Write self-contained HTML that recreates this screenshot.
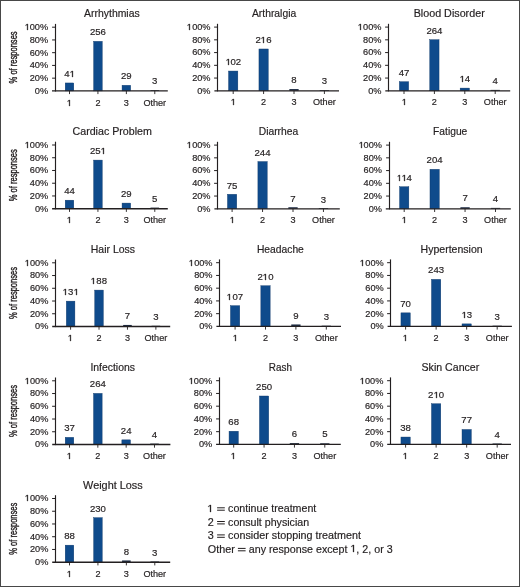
<!DOCTYPE html>
<html><head><meta charset="utf-8"><style>
html,body{margin:0;padding:0;background:#fff;}
svg{display:block;will-change:transform;}
text{font-family:"Liberation Sans",sans-serif;fill:#231f20;stroke:#231f20;stroke-width:0.18px;}
.h1{fill:none;stroke:none;}
</style></head><body>
<svg width="520" height="587" viewBox="0 0 520 587">
<rect x="0" y="0" width="520" height="587" fill="#fff"/>
<rect x="0.5" y="0.5" width="519" height="586" fill="none" stroke="#474747" stroke-width="1"/>
<text x="111.90" y="17.10" font-size="10.3" text-anchor="middle" textLength="55.59" lengthAdjust="spacingAndGlyphs">Arrhythmias</text>
<line x1="55.50" y1="23.90" x2="55.50" y2="91.50" stroke="#231f20" stroke-width="1.15"/>
<text x="48.14" y="93.76" font-size="9.2" text-anchor="end">0%</text>
<line x1="52.10" y1="78.16" x2="55.50" y2="78.16" stroke="#231f20" stroke-width="1.0"/>
<text x="48.14" y="81.02" font-size="9.2" text-anchor="end">20%</text>
<line x1="52.10" y1="65.42" x2="55.50" y2="65.42" stroke="#231f20" stroke-width="1.0"/>
<text x="48.14" y="68.28" font-size="9.2" text-anchor="end">40%</text>
<line x1="52.10" y1="52.68" x2="55.50" y2="52.68" stroke="#231f20" stroke-width="1.0"/>
<text x="48.14" y="55.54" font-size="9.2" text-anchor="end">60%</text>
<line x1="52.10" y1="39.94" x2="55.50" y2="39.94" stroke="#231f20" stroke-width="1.0"/>
<text x="48.14" y="42.80" font-size="9.2" text-anchor="end">80%</text>
<line x1="52.10" y1="27.20" x2="55.50" y2="27.20" stroke="#231f20" stroke-width="1.0"/>
<text x="48.14" y="30.06" font-size="9.2" text-anchor="end" id="t1"><tspan class="h1">1</tspan>00%</text>
<path d="M515,0 L515,1237 L197,1010 L197,1180 L530,1409 L696,1409 L696,0 Z" transform="translate(24.776,30.000) scale(0.00450,-0.00426)" fill="#231f20" stroke="#231f20" stroke-width="0.3" vector-effect="non-scaling-stroke"/>
<rect x="65.20" y="82.96" width="8.60" height="7.94" fill="#0f4b8c" stroke="#0c3566" stroke-width="0.4"/>
<line x1="69.50" y1="90.90" x2="69.50" y2="94.10" stroke="#231f20" stroke-width="0.9"/>
<text x="69.50" y="76.86" font-size="9.6" text-anchor="middle" id="t2">4<tspan class="h1">1</tspan></text>
<path d="M515,0 L515,1237 L197,1010 L197,1180 L530,1409 L696,1409 L696,0 Z" transform="translate(69.659,77.000) scale(0.00469,-0.00426)" fill="#231f20" stroke="#231f20" stroke-width="0.3" vector-effect="non-scaling-stroke"/>
<text x="69.50" y="105.50" font-size="9.1" text-anchor="middle" id="t3"><tspan class="h1">1</tspan></text>
<path d="M515,0 L515,1237 L197,1010 L197,1180 L530,1409 L696,1409 L696,0 Z" transform="translate(66.809,106.000) scale(0.00444,-0.00426)" fill="#231f20" stroke="#231f20" stroke-width="0.3" vector-effect="non-scaling-stroke"/>
<rect x="93.63" y="41.33" width="8.60" height="49.57" fill="#0f4b8c" stroke="#0c3566" stroke-width="0.4"/>
<line x1="97.93" y1="90.90" x2="97.93" y2="94.10" stroke="#231f20" stroke-width="0.9"/>
<text x="97.93" y="35.23" font-size="9.6" text-anchor="middle">256</text>
<text x="97.93" y="105.50" font-size="9.1" text-anchor="middle">2</text>
<rect x="122.06" y="85.29" width="8.60" height="5.61" fill="#0f4b8c" stroke="#0c3566" stroke-width="0.4"/>
<line x1="126.36" y1="90.90" x2="126.36" y2="94.10" stroke="#231f20" stroke-width="0.9"/>
<text x="126.36" y="79.19" font-size="9.6" text-anchor="middle">29</text>
<text x="126.36" y="105.50" font-size="9.1" text-anchor="middle">3</text>
<rect x="150.49" y="90.17" width="8.60" height="0.73" fill="#26303f"/>
<line x1="154.79" y1="90.90" x2="154.79" y2="94.10" stroke="#231f20" stroke-width="0.9"/>
<text x="154.79" y="84.22" font-size="9.6" text-anchor="middle">3</text>
<text x="154.79" y="105.50" font-size="9.1" text-anchor="middle">Other</text>
<line x1="52.00" y1="90.90" x2="167.80" y2="90.90" stroke="#231f20" stroke-width="1.35"/>
<text x="0" y="0" font-size="10.8" text-anchor="middle" textLength="52.0" lengthAdjust="spacingAndGlyphs" style="stroke-width:0.4px" transform="translate(16.5,57.40) rotate(-90)">% of responses</text>
<text x="274.09" y="17.00" font-size="10.3" text-anchor="middle" textLength="44.19" lengthAdjust="spacingAndGlyphs">Arthralgia</text>
<line x1="217.50" y1="23.80" x2="217.50" y2="91.40" stroke="#231f20" stroke-width="1.15"/>
<text x="210.54" y="93.66" font-size="9.2" text-anchor="end">0%</text>
<line x1="214.10" y1="78.06" x2="217.50" y2="78.06" stroke="#231f20" stroke-width="1.0"/>
<text x="210.54" y="80.92" font-size="9.2" text-anchor="end">20%</text>
<line x1="214.10" y1="65.32" x2="217.50" y2="65.32" stroke="#231f20" stroke-width="1.0"/>
<text x="210.54" y="68.18" font-size="9.2" text-anchor="end">40%</text>
<line x1="214.10" y1="52.58" x2="217.50" y2="52.58" stroke="#231f20" stroke-width="1.0"/>
<text x="210.54" y="55.44" font-size="9.2" text-anchor="end">60%</text>
<line x1="214.10" y1="39.84" x2="217.50" y2="39.84" stroke="#231f20" stroke-width="1.0"/>
<text x="210.54" y="42.70" font-size="9.2" text-anchor="end">80%</text>
<line x1="214.10" y1="27.10" x2="217.50" y2="27.10" stroke="#231f20" stroke-width="1.0"/>
<text x="210.54" y="29.96" font-size="9.2" text-anchor="end" id="t4"><tspan class="h1">1</tspan>00%</text>
<path d="M515,0 L515,1237 L197,1010 L197,1180 L530,1409 L696,1409 L696,0 Z" transform="translate(186.776,30.000) scale(0.00450,-0.00426)" fill="#231f20" stroke="#231f20" stroke-width="0.3" vector-effect="non-scaling-stroke"/>
<rect x="228.55" y="71.05" width="9.30" height="19.75" fill="#0f4b8c" stroke="#0c3566" stroke-width="0.4"/>
<line x1="233.20" y1="90.80" x2="233.20" y2="94.00" stroke="#231f20" stroke-width="0.9"/>
<text x="233.20" y="64.95" font-size="9.6" text-anchor="middle" id="t5"><tspan class="h1">1</tspan>02</text>
<path d="M515,0 L515,1237 L197,1010 L197,1180 L530,1409 L696,1409 L696,0 Z" transform="translate(225.659,65.000) scale(0.00469,-0.00426)" fill="#231f20" stroke="#231f20" stroke-width="0.3" vector-effect="non-scaling-stroke"/>
<text x="233.20" y="105.40" font-size="9.1" text-anchor="middle" id="t6"><tspan class="h1">1</tspan></text>
<path d="M515,0 L515,1237 L197,1010 L197,1180 L530,1409 L696,1409 L696,0 Z" transform="translate(230.809,105.000) scale(0.00444,-0.00426)" fill="#231f20" stroke="#231f20" stroke-width="0.3" vector-effect="non-scaling-stroke"/>
<rect x="258.95" y="48.98" width="9.30" height="41.82" fill="#0f4b8c" stroke="#0c3566" stroke-width="0.4"/>
<line x1="263.60" y1="90.80" x2="263.60" y2="94.00" stroke="#231f20" stroke-width="0.9"/>
<text x="263.60" y="42.88" font-size="9.6" text-anchor="middle" id="t7">2<tspan class="h1">1</tspan>6</text>
<path d="M515,0 L515,1237 L197,1010 L197,1180 L530,1409 L696,1409 L696,0 Z" transform="translate(260.659,43.000) scale(0.00469,-0.00426)" fill="#231f20" stroke="#231f20" stroke-width="0.3" vector-effect="non-scaling-stroke"/>
<text x="263.60" y="105.40" font-size="9.1" text-anchor="middle">2</text>
<rect x="289.35" y="89.05" width="9.30" height="1.75" fill="#1d2c44"/>
<line x1="294.00" y1="90.80" x2="294.00" y2="94.00" stroke="#231f20" stroke-width="0.9"/>
<text x="294.00" y="83.15" font-size="9.6" text-anchor="middle">8</text>
<text x="294.00" y="105.40" font-size="9.1" text-anchor="middle">3</text>
<rect x="319.75" y="90.07" width="9.30" height="0.73" fill="#26303f"/>
<line x1="324.40" y1="90.80" x2="324.40" y2="94.00" stroke="#231f20" stroke-width="0.9"/>
<text x="324.40" y="84.12" font-size="9.6" text-anchor="middle">3</text>
<text x="324.40" y="105.40" font-size="9.1" text-anchor="middle">Other</text>
<line x1="214.40" y1="90.80" x2="339.00" y2="90.80" stroke="#231f20" stroke-width="1.35"/>
<text x="449.20" y="17.20" font-size="10.3" text-anchor="middle" textLength="71.10" lengthAdjust="spacingAndGlyphs">Blood Disorder</text>
<line x1="388.50" y1="23.80" x2="388.50" y2="91.40" stroke="#231f20" stroke-width="1.15"/>
<text x="381.44" y="93.66" font-size="9.2" text-anchor="end">0%</text>
<line x1="385.10" y1="78.06" x2="388.50" y2="78.06" stroke="#231f20" stroke-width="1.0"/>
<text x="381.44" y="80.92" font-size="9.2" text-anchor="end">20%</text>
<line x1="385.10" y1="65.32" x2="388.50" y2="65.32" stroke="#231f20" stroke-width="1.0"/>
<text x="381.44" y="68.18" font-size="9.2" text-anchor="end">40%</text>
<line x1="385.10" y1="52.58" x2="388.50" y2="52.58" stroke="#231f20" stroke-width="1.0"/>
<text x="381.44" y="55.44" font-size="9.2" text-anchor="end">60%</text>
<line x1="385.10" y1="39.84" x2="388.50" y2="39.84" stroke="#231f20" stroke-width="1.0"/>
<text x="381.44" y="42.70" font-size="9.2" text-anchor="end">80%</text>
<line x1="385.10" y1="27.10" x2="388.50" y2="27.10" stroke="#231f20" stroke-width="1.0"/>
<text x="381.44" y="29.96" font-size="9.2" text-anchor="end" id="t8"><tspan class="h1">1</tspan>00%</text>
<path d="M515,0 L515,1237 L197,1010 L197,1180 L530,1409 L696,1409 L696,0 Z" transform="translate(357.776,30.000) scale(0.00450,-0.00426)" fill="#231f20" stroke="#231f20" stroke-width="0.3" vector-effect="non-scaling-stroke"/>
<rect x="399.35" y="81.70" width="9.30" height="9.10" fill="#0f4b8c" stroke="#0c3566" stroke-width="0.4"/>
<line x1="404.00" y1="90.80" x2="404.00" y2="94.00" stroke="#231f20" stroke-width="0.9"/>
<text x="404.00" y="75.60" font-size="9.6" text-anchor="middle">47</text>
<text x="404.00" y="105.40" font-size="9.1" text-anchor="middle" id="t9"><tspan class="h1">1</tspan></text>
<path d="M515,0 L515,1237 L197,1010 L197,1180 L530,1409 L696,1409 L696,0 Z" transform="translate(401.809,105.000) scale(0.00444,-0.00426)" fill="#231f20" stroke="#231f20" stroke-width="0.3" vector-effect="non-scaling-stroke"/>
<rect x="429.75" y="39.69" width="9.30" height="51.11" fill="#0f4b8c" stroke="#0c3566" stroke-width="0.4"/>
<line x1="434.40" y1="90.80" x2="434.40" y2="94.00" stroke="#231f20" stroke-width="0.9"/>
<text x="434.40" y="33.59" font-size="9.6" text-anchor="middle">264</text>
<text x="434.40" y="105.40" font-size="9.1" text-anchor="middle">2</text>
<rect x="460.15" y="88.09" width="9.30" height="2.71" fill="#0f4b8c" stroke="#0c3566" stroke-width="0.4"/>
<line x1="464.80" y1="90.80" x2="464.80" y2="94.00" stroke="#231f20" stroke-width="0.9"/>
<text x="464.80" y="81.99" font-size="9.6" text-anchor="middle" id="t10"><tspan class="h1">1</tspan>4</text>
<path d="M515,0 L515,1237 L197,1010 L197,1180 L530,1409 L696,1409 L696,0 Z" transform="translate(459.659,82.000) scale(0.00469,-0.00426)" fill="#231f20" stroke="#231f20" stroke-width="0.3" vector-effect="non-scaling-stroke"/>
<text x="464.80" y="105.40" font-size="9.1" text-anchor="middle">3</text>
<rect x="490.55" y="89.88" width="9.30" height="0.92" fill="#26303f"/>
<line x1="495.20" y1="90.80" x2="495.20" y2="94.00" stroke="#231f20" stroke-width="0.9"/>
<text x="495.20" y="83.93" font-size="9.6" text-anchor="middle">4</text>
<text x="495.20" y="105.40" font-size="9.1" text-anchor="middle">Other</text>
<line x1="385.30" y1="90.80" x2="510.20" y2="90.80" stroke="#231f20" stroke-width="1.35"/>
<text x="112.20" y="135.00" font-size="10.3" text-anchor="middle" textLength="79.40" lengthAdjust="spacingAndGlyphs">Cardiac Problem</text>
<line x1="55.50" y1="141.70" x2="55.50" y2="209.30" stroke="#231f20" stroke-width="1.15"/>
<text x="48.24" y="211.56" font-size="9.2" text-anchor="end">0%</text>
<line x1="52.10" y1="195.96" x2="55.50" y2="195.96" stroke="#231f20" stroke-width="1.0"/>
<text x="48.24" y="198.82" font-size="9.2" text-anchor="end">20%</text>
<line x1="52.10" y1="183.22" x2="55.50" y2="183.22" stroke="#231f20" stroke-width="1.0"/>
<text x="48.24" y="186.08" font-size="9.2" text-anchor="end">40%</text>
<line x1="52.10" y1="170.48" x2="55.50" y2="170.48" stroke="#231f20" stroke-width="1.0"/>
<text x="48.24" y="173.34" font-size="9.2" text-anchor="end">60%</text>
<line x1="52.10" y1="157.74" x2="55.50" y2="157.74" stroke="#231f20" stroke-width="1.0"/>
<text x="48.24" y="160.60" font-size="9.2" text-anchor="end">80%</text>
<line x1="52.10" y1="145.00" x2="55.50" y2="145.00" stroke="#231f20" stroke-width="1.0"/>
<text x="48.24" y="147.86" font-size="9.2" text-anchor="end" id="t11"><tspan class="h1">1</tspan>00%</text>
<path d="M515,0 L515,1237 L197,1010 L197,1180 L530,1409 L696,1409 L696,0 Z" transform="translate(24.776,148.000) scale(0.00450,-0.00426)" fill="#231f20" stroke="#231f20" stroke-width="0.3" vector-effect="non-scaling-stroke"/>
<rect x="65.20" y="200.18" width="8.60" height="8.52" fill="#0f4b8c" stroke="#0c3566" stroke-width="0.4"/>
<line x1="69.50" y1="208.70" x2="69.50" y2="211.90" stroke="#231f20" stroke-width="0.9"/>
<text x="69.50" y="194.08" font-size="9.6" text-anchor="middle">44</text>
<text x="69.50" y="223.30" font-size="9.1" text-anchor="middle" id="t12"><tspan class="h1">1</tspan></text>
<path d="M515,0 L515,1237 L197,1010 L197,1180 L530,1409 L696,1409 L696,0 Z" transform="translate(66.809,223.000) scale(0.00444,-0.00426)" fill="#231f20" stroke="#231f20" stroke-width="0.3" vector-effect="non-scaling-stroke"/>
<rect x="93.63" y="160.10" width="8.60" height="48.60" fill="#0f4b8c" stroke="#0c3566" stroke-width="0.4"/>
<line x1="97.93" y1="208.70" x2="97.93" y2="211.90" stroke="#231f20" stroke-width="0.9"/>
<text x="97.93" y="154.00" font-size="9.6" text-anchor="middle" id="t13">25<tspan class="h1">1</tspan></text>
<path d="M515,0 L515,1237 L197,1010 L197,1180 L530,1409 L696,1409 L696,0 Z" transform="translate(100.659,154.000) scale(0.00469,-0.00426)" fill="#231f20" stroke="#231f20" stroke-width="0.3" vector-effect="non-scaling-stroke"/>
<text x="97.93" y="223.30" font-size="9.1" text-anchor="middle">2</text>
<rect x="122.06" y="203.09" width="8.60" height="5.61" fill="#0f4b8c" stroke="#0c3566" stroke-width="0.4"/>
<line x1="126.36" y1="208.70" x2="126.36" y2="211.90" stroke="#231f20" stroke-width="0.9"/>
<text x="126.36" y="196.99" font-size="9.6" text-anchor="middle">29</text>
<text x="126.36" y="223.30" font-size="9.1" text-anchor="middle">3</text>
<rect x="150.49" y="207.58" width="8.60" height="1.12" fill="#26303f"/>
<line x1="154.79" y1="208.70" x2="154.79" y2="211.90" stroke="#231f20" stroke-width="0.9"/>
<text x="154.79" y="201.63" font-size="9.6" text-anchor="middle">5</text>
<text x="154.79" y="223.30" font-size="9.1" text-anchor="middle">Other</text>
<line x1="52.10" y1="208.70" x2="167.80" y2="208.70" stroke="#231f20" stroke-width="1.35"/>
<text x="0" y="0" font-size="10.8" text-anchor="middle" textLength="52.0" lengthAdjust="spacingAndGlyphs" style="stroke-width:0.4px" transform="translate(16.5,175.20) rotate(-90)">% of responses</text>
<text x="278.49" y="135.00" font-size="10.3" text-anchor="middle" textLength="39.49" lengthAdjust="spacingAndGlyphs">Diarrhea</text>
<line x1="217.50" y1="141.80" x2="217.50" y2="209.40" stroke="#231f20" stroke-width="1.15"/>
<text x="210.54" y="211.66" font-size="9.2" text-anchor="end">0%</text>
<line x1="214.10" y1="196.06" x2="217.50" y2="196.06" stroke="#231f20" stroke-width="1.0"/>
<text x="210.54" y="198.92" font-size="9.2" text-anchor="end">20%</text>
<line x1="214.10" y1="183.32" x2="217.50" y2="183.32" stroke="#231f20" stroke-width="1.0"/>
<text x="210.54" y="186.18" font-size="9.2" text-anchor="end">40%</text>
<line x1="214.10" y1="170.58" x2="217.50" y2="170.58" stroke="#231f20" stroke-width="1.0"/>
<text x="210.54" y="173.44" font-size="9.2" text-anchor="end">60%</text>
<line x1="214.10" y1="157.84" x2="217.50" y2="157.84" stroke="#231f20" stroke-width="1.0"/>
<text x="210.54" y="160.70" font-size="9.2" text-anchor="end">80%</text>
<line x1="214.10" y1="145.10" x2="217.50" y2="145.10" stroke="#231f20" stroke-width="1.0"/>
<text x="210.54" y="147.96" font-size="9.2" text-anchor="end" id="t14"><tspan class="h1">1</tspan>00%</text>
<path d="M515,0 L515,1237 L197,1010 L197,1180 L530,1409 L696,1409 L696,0 Z" transform="translate(186.776,148.000) scale(0.00450,-0.00426)" fill="#231f20" stroke="#231f20" stroke-width="0.3" vector-effect="non-scaling-stroke"/>
<rect x="227.45" y="194.28" width="9.30" height="14.52" fill="#0f4b8c" stroke="#0c3566" stroke-width="0.4"/>
<line x1="232.10" y1="208.80" x2="232.10" y2="212.00" stroke="#231f20" stroke-width="0.9"/>
<text x="232.10" y="188.58" font-size="9.6" text-anchor="middle">75</text>
<text x="232.10" y="223.40" font-size="9.1" text-anchor="middle" id="t15"><tspan class="h1">1</tspan></text>
<path d="M515,0 L515,1237 L197,1010 L197,1180 L530,1409 L696,1409 L696,0 Z" transform="translate(229.809,223.000) scale(0.00444,-0.00426)" fill="#231f20" stroke="#231f20" stroke-width="0.3" vector-effect="non-scaling-stroke"/>
<rect x="257.90" y="161.56" width="9.30" height="47.24" fill="#0f4b8c" stroke="#0c3566" stroke-width="0.4"/>
<line x1="262.55" y1="208.80" x2="262.55" y2="212.00" stroke="#231f20" stroke-width="0.9"/>
<text x="262.55" y="155.86" font-size="9.6" text-anchor="middle">244</text>
<text x="262.55" y="223.40" font-size="9.1" text-anchor="middle">2</text>
<rect x="288.35" y="207.24" width="9.30" height="1.56" fill="#1d2c44"/>
<line x1="293.00" y1="208.80" x2="293.00" y2="212.00" stroke="#231f20" stroke-width="0.9"/>
<text x="293.00" y="201.74" font-size="9.6" text-anchor="middle">7</text>
<text x="293.00" y="223.40" font-size="9.1" text-anchor="middle">3</text>
<rect x="318.80" y="208.07" width="9.30" height="0.73" fill="#26303f"/>
<line x1="323.45" y1="208.80" x2="323.45" y2="212.00" stroke="#231f20" stroke-width="0.9"/>
<text x="323.45" y="202.52" font-size="9.6" text-anchor="middle">3</text>
<text x="323.45" y="223.40" font-size="9.1" text-anchor="middle">Other</text>
<line x1="214.40" y1="208.80" x2="339.80" y2="208.80" stroke="#231f20" stroke-width="1.35"/>
<text x="450.20" y="135.00" font-size="10.3" text-anchor="middle" textLength="34.20" lengthAdjust="spacingAndGlyphs">Fatigue</text>
<line x1="389.50" y1="141.80" x2="389.50" y2="209.40" stroke="#231f20" stroke-width="1.15"/>
<text x="381.94" y="211.66" font-size="9.2" text-anchor="end">0%</text>
<line x1="386.10" y1="196.06" x2="389.50" y2="196.06" stroke="#231f20" stroke-width="1.0"/>
<text x="381.94" y="198.92" font-size="9.2" text-anchor="end">20%</text>
<line x1="386.10" y1="183.32" x2="389.50" y2="183.32" stroke="#231f20" stroke-width="1.0"/>
<text x="381.94" y="186.18" font-size="9.2" text-anchor="end">40%</text>
<line x1="386.10" y1="170.58" x2="389.50" y2="170.58" stroke="#231f20" stroke-width="1.0"/>
<text x="381.94" y="173.44" font-size="9.2" text-anchor="end">60%</text>
<line x1="386.10" y1="157.84" x2="389.50" y2="157.84" stroke="#231f20" stroke-width="1.0"/>
<text x="381.94" y="160.70" font-size="9.2" text-anchor="end">80%</text>
<line x1="386.10" y1="145.10" x2="389.50" y2="145.10" stroke="#231f20" stroke-width="1.0"/>
<text x="381.94" y="147.96" font-size="9.2" text-anchor="end" id="t16"><tspan class="h1">1</tspan>00%</text>
<path d="M515,0 L515,1237 L197,1010 L197,1180 L530,1409 L696,1409 L696,0 Z" transform="translate(358.776,148.000) scale(0.00450,-0.00426)" fill="#231f20" stroke="#231f20" stroke-width="0.3" vector-effect="non-scaling-stroke"/>
<rect x="399.55" y="186.73" width="9.30" height="22.07" fill="#0f4b8c" stroke="#0c3566" stroke-width="0.4"/>
<line x1="404.20" y1="208.80" x2="404.20" y2="212.00" stroke="#231f20" stroke-width="0.9"/>
<text x="404.20" y="180.63" font-size="9.6" text-anchor="middle" id="t17"><tspan class="h1">1</tspan><tspan class="h1">1</tspan>4</text>
<path d="M515,0 L515,1237 L197,1010 L197,1180 L530,1409 L696,1409 L696,0 Z" transform="translate(397.041,181.000) scale(0.00406,-0.00426)" fill="#231f20" stroke="#231f20" stroke-width="0.3" vector-effect="non-scaling-stroke"/>
<path d="M515,0 L515,1237 L197,1010 L197,1180 L530,1409 L696,1409 L696,0 Z" transform="translate(401.659,181.000) scale(0.00469,-0.00426)" fill="#231f20" stroke="#231f20" stroke-width="0.3" vector-effect="non-scaling-stroke"/>
<text x="404.20" y="223.40" font-size="9.1" text-anchor="middle" id="t18"><tspan class="h1">1</tspan></text>
<path d="M515,0 L515,1237 L197,1010 L197,1180 L530,1409 L696,1409 L696,0 Z" transform="translate(401.809,223.000) scale(0.00444,-0.00426)" fill="#231f20" stroke="#231f20" stroke-width="0.3" vector-effect="non-scaling-stroke"/>
<rect x="429.98" y="169.30" width="9.30" height="39.50" fill="#0f4b8c" stroke="#0c3566" stroke-width="0.4"/>
<line x1="434.63" y1="208.80" x2="434.63" y2="212.00" stroke="#231f20" stroke-width="0.9"/>
<text x="434.63" y="163.20" font-size="9.6" text-anchor="middle">204</text>
<text x="434.63" y="223.40" font-size="9.1" text-anchor="middle">2</text>
<rect x="460.41" y="207.24" width="9.30" height="1.56" fill="#1d2c44"/>
<line x1="465.06" y1="208.80" x2="465.06" y2="212.00" stroke="#231f20" stroke-width="0.9"/>
<text x="465.06" y="201.34" font-size="9.6" text-anchor="middle">7</text>
<text x="465.06" y="223.40" font-size="9.1" text-anchor="middle">3</text>
<rect x="490.84" y="207.88" width="9.30" height="0.92" fill="#26303f"/>
<line x1="495.49" y1="208.80" x2="495.49" y2="212.00" stroke="#231f20" stroke-width="0.9"/>
<text x="495.49" y="201.93" font-size="9.6" text-anchor="middle">4</text>
<text x="495.49" y="223.40" font-size="9.1" text-anchor="middle">Other</text>
<line x1="385.80" y1="208.80" x2="510.80" y2="208.80" stroke="#231f20" stroke-width="1.35"/>
<text x="112.90" y="252.80" font-size="10.3" text-anchor="middle" textLength="44.20" lengthAdjust="spacingAndGlyphs">Hair Loss</text>
<line x1="55.50" y1="259.50" x2="55.50" y2="327.10" stroke="#231f20" stroke-width="1.15"/>
<text x="48.34" y="329.36" font-size="9.2" text-anchor="end">0%</text>
<line x1="52.10" y1="313.76" x2="55.50" y2="313.76" stroke="#231f20" stroke-width="1.0"/>
<text x="48.34" y="316.62" font-size="9.2" text-anchor="end">20%</text>
<line x1="52.10" y1="301.02" x2="55.50" y2="301.02" stroke="#231f20" stroke-width="1.0"/>
<text x="48.34" y="303.88" font-size="9.2" text-anchor="end">40%</text>
<line x1="52.10" y1="288.28" x2="55.50" y2="288.28" stroke="#231f20" stroke-width="1.0"/>
<text x="48.34" y="291.14" font-size="9.2" text-anchor="end">60%</text>
<line x1="52.10" y1="275.54" x2="55.50" y2="275.54" stroke="#231f20" stroke-width="1.0"/>
<text x="48.34" y="278.40" font-size="9.2" text-anchor="end">80%</text>
<line x1="52.10" y1="262.80" x2="55.50" y2="262.80" stroke="#231f20" stroke-width="1.0"/>
<text x="48.34" y="265.66" font-size="9.2" text-anchor="end" id="t19"><tspan class="h1">1</tspan>00%</text>
<path d="M515,0 L515,1237 L197,1010 L197,1180 L530,1409 L696,1409 L696,0 Z" transform="translate(24.776,266.000) scale(0.00450,-0.00426)" fill="#231f20" stroke="#231f20" stroke-width="0.3" vector-effect="non-scaling-stroke"/>
<rect x="66.30" y="301.14" width="8.60" height="25.36" fill="#0f4b8c" stroke="#0c3566" stroke-width="0.4"/>
<line x1="70.60" y1="326.50" x2="70.60" y2="329.70" stroke="#231f20" stroke-width="0.9"/>
<text x="70.60" y="295.04" font-size="9.6" text-anchor="middle" id="t20"><tspan class="h1">1</tspan>3<tspan class="h1">1</tspan></text>
<path d="M515,0 L515,1237 L197,1010 L197,1180 L530,1409 L696,1409 L696,0 Z" transform="translate(62.659,295.000) scale(0.00469,-0.00426)" fill="#231f20" stroke="#231f20" stroke-width="0.3" vector-effect="non-scaling-stroke"/>
<path d="M515,0 L515,1237 L197,1010 L197,1180 L530,1409 L696,1409 L696,0 Z" transform="translate(73.659,295.000) scale(0.00469,-0.00426)" fill="#231f20" stroke="#231f20" stroke-width="0.3" vector-effect="non-scaling-stroke"/>
<text x="70.60" y="341.10" font-size="9.1" text-anchor="middle" id="t21"><tspan class="h1">1</tspan></text>
<path d="M515,0 L515,1237 L197,1010 L197,1180 L530,1409 L696,1409 L696,0 Z" transform="translate(67.809,341.000) scale(0.00444,-0.00426)" fill="#231f20" stroke="#231f20" stroke-width="0.3" vector-effect="non-scaling-stroke"/>
<rect x="94.73" y="290.10" width="8.60" height="36.40" fill="#0f4b8c" stroke="#0c3566" stroke-width="0.4"/>
<line x1="99.03" y1="326.50" x2="99.03" y2="329.70" stroke="#231f20" stroke-width="0.9"/>
<text x="99.03" y="284.00" font-size="9.6" text-anchor="middle" id="t22"><tspan class="h1">1</tspan>88</text>
<path d="M515,0 L515,1237 L197,1010 L197,1180 L530,1409 L696,1409 L696,0 Z" transform="translate(90.659,284.000) scale(0.00469,-0.00426)" fill="#231f20" stroke="#231f20" stroke-width="0.3" vector-effect="non-scaling-stroke"/>
<text x="99.03" y="341.10" font-size="9.1" text-anchor="middle">2</text>
<rect x="123.16" y="324.94" width="8.60" height="1.56" fill="#1d2c44"/>
<line x1="127.46" y1="326.50" x2="127.46" y2="329.70" stroke="#231f20" stroke-width="0.9"/>
<text x="127.46" y="319.04" font-size="9.6" text-anchor="middle">7</text>
<text x="127.46" y="341.10" font-size="9.1" text-anchor="middle">3</text>
<rect x="151.59" y="325.77" width="8.60" height="0.73" fill="#26303f"/>
<line x1="155.89" y1="326.50" x2="155.89" y2="329.70" stroke="#231f20" stroke-width="0.9"/>
<text x="155.89" y="319.82" font-size="9.6" text-anchor="middle">3</text>
<text x="155.89" y="341.10" font-size="9.1" text-anchor="middle">Other</text>
<line x1="52.20" y1="326.50" x2="170.20" y2="326.50" stroke="#231f20" stroke-width="1.35"/>
<text x="0" y="0" font-size="10.8" text-anchor="middle" textLength="52.0" lengthAdjust="spacingAndGlyphs" style="stroke-width:0.4px" transform="translate(16.5,293.00) rotate(-90)">% of responses</text>
<text x="280.40" y="252.80" font-size="10.3" text-anchor="middle" textLength="46.90" lengthAdjust="spacingAndGlyphs">Headache</text>
<line x1="219.50" y1="259.40" x2="219.50" y2="327.00" stroke="#231f20" stroke-width="1.15"/>
<text x="212.54" y="329.26" font-size="9.2" text-anchor="end">0%</text>
<line x1="216.10" y1="313.66" x2="219.50" y2="313.66" stroke="#231f20" stroke-width="1.0"/>
<text x="212.54" y="316.52" font-size="9.2" text-anchor="end">20%</text>
<line x1="216.10" y1="300.92" x2="219.50" y2="300.92" stroke="#231f20" stroke-width="1.0"/>
<text x="212.54" y="303.78" font-size="9.2" text-anchor="end">40%</text>
<line x1="216.10" y1="288.18" x2="219.50" y2="288.18" stroke="#231f20" stroke-width="1.0"/>
<text x="212.54" y="291.04" font-size="9.2" text-anchor="end">60%</text>
<line x1="216.10" y1="275.44" x2="219.50" y2="275.44" stroke="#231f20" stroke-width="1.0"/>
<text x="212.54" y="278.30" font-size="9.2" text-anchor="end">80%</text>
<line x1="216.10" y1="262.70" x2="219.50" y2="262.70" stroke="#231f20" stroke-width="1.0"/>
<text x="212.54" y="265.56" font-size="9.2" text-anchor="end" id="t23"><tspan class="h1">1</tspan>00%</text>
<path d="M515,0 L515,1237 L197,1010 L197,1180 L530,1409 L696,1409 L696,0 Z" transform="translate(188.776,266.000) scale(0.00450,-0.00426)" fill="#231f20" stroke="#231f20" stroke-width="0.3" vector-effect="non-scaling-stroke"/>
<rect x="230.45" y="305.68" width="9.30" height="20.72" fill="#0f4b8c" stroke="#0c3566" stroke-width="0.4"/>
<line x1="235.10" y1="326.40" x2="235.10" y2="329.60" stroke="#231f20" stroke-width="0.9"/>
<text x="235.10" y="299.58" font-size="9.6" text-anchor="middle" id="t24"><tspan class="h1">1</tspan>07</text>
<path d="M515,0 L515,1237 L197,1010 L197,1180 L530,1409 L696,1409 L696,0 Z" transform="translate(226.659,300.000) scale(0.00469,-0.00426)" fill="#231f20" stroke="#231f20" stroke-width="0.3" vector-effect="non-scaling-stroke"/>
<text x="235.10" y="341.00" font-size="9.1" text-anchor="middle" id="t25"><tspan class="h1">1</tspan></text>
<path d="M515,0 L515,1237 L197,1010 L197,1180 L530,1409 L696,1409 L696,0 Z" transform="translate(232.809,341.000) scale(0.00444,-0.00426)" fill="#231f20" stroke="#231f20" stroke-width="0.3" vector-effect="non-scaling-stroke"/>
<rect x="260.85" y="285.74" width="9.30" height="40.66" fill="#0f4b8c" stroke="#0c3566" stroke-width="0.4"/>
<line x1="265.50" y1="326.40" x2="265.50" y2="329.60" stroke="#231f20" stroke-width="0.9"/>
<text x="265.50" y="279.64" font-size="9.6" text-anchor="middle" id="t26">2<tspan class="h1">1</tspan>0</text>
<path d="M515,0 L515,1237 L197,1010 L197,1180 L530,1409 L696,1409 L696,0 Z" transform="translate(262.659,280.000) scale(0.00469,-0.00426)" fill="#231f20" stroke="#231f20" stroke-width="0.3" vector-effect="non-scaling-stroke"/>
<text x="265.50" y="341.00" font-size="9.1" text-anchor="middle">2</text>
<rect x="291.25" y="324.46" width="9.30" height="1.94" fill="#1d2c44"/>
<line x1="295.90" y1="326.40" x2="295.90" y2="329.60" stroke="#231f20" stroke-width="0.9"/>
<text x="295.90" y="318.56" font-size="9.6" text-anchor="middle">9</text>
<text x="295.90" y="341.00" font-size="9.1" text-anchor="middle">3</text>
<rect x="321.65" y="325.67" width="9.30" height="0.73" fill="#26303f"/>
<line x1="326.30" y1="326.40" x2="326.30" y2="329.60" stroke="#231f20" stroke-width="0.9"/>
<text x="326.30" y="319.72" font-size="9.6" text-anchor="middle">3</text>
<text x="326.30" y="341.00" font-size="9.1" text-anchor="middle">Other</text>
<line x1="216.40" y1="326.40" x2="341.00" y2="326.40" stroke="#231f20" stroke-width="1.35"/>
<text x="451.60" y="252.80" font-size="10.3" text-anchor="middle" textLength="62.10" lengthAdjust="spacingAndGlyphs">Hypertension</text>
<line x1="390.50" y1="259.40" x2="390.50" y2="327.00" stroke="#231f20" stroke-width="1.15"/>
<text x="383.74" y="329.26" font-size="9.2" text-anchor="end">0%</text>
<line x1="387.10" y1="313.66" x2="390.50" y2="313.66" stroke="#231f20" stroke-width="1.0"/>
<text x="383.74" y="316.52" font-size="9.2" text-anchor="end">20%</text>
<line x1="387.10" y1="300.92" x2="390.50" y2="300.92" stroke="#231f20" stroke-width="1.0"/>
<text x="383.74" y="303.78" font-size="9.2" text-anchor="end">40%</text>
<line x1="387.10" y1="288.18" x2="390.50" y2="288.18" stroke="#231f20" stroke-width="1.0"/>
<text x="383.74" y="291.04" font-size="9.2" text-anchor="end">60%</text>
<line x1="387.10" y1="275.44" x2="390.50" y2="275.44" stroke="#231f20" stroke-width="1.0"/>
<text x="383.74" y="278.30" font-size="9.2" text-anchor="end">80%</text>
<line x1="387.10" y1="262.70" x2="390.50" y2="262.70" stroke="#231f20" stroke-width="1.0"/>
<text x="383.74" y="265.56" font-size="9.2" text-anchor="end" id="t27"><tspan class="h1">1</tspan>00%</text>
<path d="M515,0 L515,1237 L197,1010 L197,1180 L530,1409 L696,1409 L696,0 Z" transform="translate(359.776,266.000) scale(0.00450,-0.00426)" fill="#231f20" stroke="#231f20" stroke-width="0.3" vector-effect="non-scaling-stroke"/>
<rect x="400.95" y="312.85" width="9.30" height="13.55" fill="#0f4b8c" stroke="#0c3566" stroke-width="0.4"/>
<line x1="405.60" y1="326.40" x2="405.60" y2="329.60" stroke="#231f20" stroke-width="0.9"/>
<text x="405.60" y="306.75" font-size="9.6" text-anchor="middle">70</text>
<text x="405.60" y="341.00" font-size="9.1" text-anchor="middle" id="t28"><tspan class="h1">1</tspan></text>
<path d="M515,0 L515,1237 L197,1010 L197,1180 L530,1409 L696,1409 L696,0 Z" transform="translate(402.809,341.000) scale(0.00444,-0.00426)" fill="#231f20" stroke="#231f20" stroke-width="0.3" vector-effect="non-scaling-stroke"/>
<rect x="431.48" y="279.35" width="9.30" height="47.05" fill="#0f4b8c" stroke="#0c3566" stroke-width="0.4"/>
<line x1="436.13" y1="326.40" x2="436.13" y2="329.60" stroke="#231f20" stroke-width="0.9"/>
<text x="436.13" y="273.25" font-size="9.6" text-anchor="middle">243</text>
<text x="436.13" y="341.00" font-size="9.1" text-anchor="middle">2</text>
<rect x="462.01" y="323.88" width="9.30" height="2.52" fill="#0f4b8c" stroke="#0c3566" stroke-width="0.4"/>
<line x1="466.66" y1="326.40" x2="466.66" y2="329.60" stroke="#231f20" stroke-width="0.9"/>
<text x="466.66" y="317.78" font-size="9.6" text-anchor="middle" id="t29"><tspan class="h1">1</tspan>3</text>
<path d="M515,0 L515,1237 L197,1010 L197,1180 L530,1409 L696,1409 L696,0 Z" transform="translate(461.659,318.000) scale(0.00469,-0.00426)" fill="#231f20" stroke="#231f20" stroke-width="0.3" vector-effect="non-scaling-stroke"/>
<text x="466.66" y="341.00" font-size="9.1" text-anchor="middle">3</text>
<rect x="492.54" y="325.67" width="9.30" height="0.73" fill="#26303f"/>
<line x1="497.19" y1="326.40" x2="497.19" y2="329.60" stroke="#231f20" stroke-width="0.9"/>
<text x="497.19" y="319.72" font-size="9.6" text-anchor="middle">3</text>
<text x="497.19" y="341.00" font-size="9.1" text-anchor="middle">Other</text>
<line x1="387.60" y1="326.40" x2="511.90" y2="326.40" stroke="#231f20" stroke-width="1.35"/>
<text x="112.70" y="370.80" font-size="10.3" text-anchor="middle" textLength="44.60" lengthAdjust="spacingAndGlyphs">Infections</text>
<line x1="55.50" y1="377.50" x2="55.50" y2="445.10" stroke="#231f20" stroke-width="1.15"/>
<text x="48.34" y="447.36" font-size="9.2" text-anchor="end">0%</text>
<line x1="52.10" y1="431.76" x2="55.50" y2="431.76" stroke="#231f20" stroke-width="1.0"/>
<text x="48.34" y="434.62" font-size="9.2" text-anchor="end">20%</text>
<line x1="52.10" y1="419.02" x2="55.50" y2="419.02" stroke="#231f20" stroke-width="1.0"/>
<text x="48.34" y="421.88" font-size="9.2" text-anchor="end">40%</text>
<line x1="52.10" y1="406.28" x2="55.50" y2="406.28" stroke="#231f20" stroke-width="1.0"/>
<text x="48.34" y="409.14" font-size="9.2" text-anchor="end">60%</text>
<line x1="52.10" y1="393.54" x2="55.50" y2="393.54" stroke="#231f20" stroke-width="1.0"/>
<text x="48.34" y="396.40" font-size="9.2" text-anchor="end">80%</text>
<line x1="52.10" y1="380.80" x2="55.50" y2="380.80" stroke="#231f20" stroke-width="1.0"/>
<text x="48.34" y="383.66" font-size="9.2" text-anchor="end" id="t30"><tspan class="h1">1</tspan>00%</text>
<path d="M515,0 L515,1237 L197,1010 L197,1180 L530,1409 L696,1409 L696,0 Z" transform="translate(24.776,384.000) scale(0.00450,-0.00426)" fill="#231f20" stroke="#231f20" stroke-width="0.3" vector-effect="non-scaling-stroke"/>
<rect x="65.20" y="437.34" width="8.60" height="7.16" fill="#0f4b8c" stroke="#0c3566" stroke-width="0.4"/>
<line x1="69.50" y1="444.50" x2="69.50" y2="447.70" stroke="#231f20" stroke-width="0.9"/>
<text x="69.50" y="431.24" font-size="9.6" text-anchor="middle">37</text>
<text x="69.50" y="459.10" font-size="9.1" text-anchor="middle" id="t31"><tspan class="h1">1</tspan></text>
<path d="M515,0 L515,1237 L197,1010 L197,1180 L530,1409 L696,1409 L696,0 Z" transform="translate(66.809,459.000) scale(0.00444,-0.00426)" fill="#231f20" stroke="#231f20" stroke-width="0.3" vector-effect="non-scaling-stroke"/>
<rect x="93.53" y="393.39" width="8.60" height="51.11" fill="#0f4b8c" stroke="#0c3566" stroke-width="0.4"/>
<line x1="97.83" y1="444.50" x2="97.83" y2="447.70" stroke="#231f20" stroke-width="0.9"/>
<text x="97.83" y="387.29" font-size="9.6" text-anchor="middle">264</text>
<text x="97.83" y="459.10" font-size="9.1" text-anchor="middle">2</text>
<rect x="121.86" y="439.85" width="8.60" height="4.65" fill="#0f4b8c" stroke="#0c3566" stroke-width="0.4"/>
<line x1="126.16" y1="444.50" x2="126.16" y2="447.70" stroke="#231f20" stroke-width="0.9"/>
<text x="126.16" y="433.75" font-size="9.6" text-anchor="middle">24</text>
<text x="126.16" y="459.10" font-size="9.1" text-anchor="middle">3</text>
<rect x="150.19" y="443.58" width="8.60" height="0.92" fill="#26303f"/>
<line x1="154.49" y1="444.50" x2="154.49" y2="447.70" stroke="#231f20" stroke-width="0.9"/>
<text x="154.49" y="437.63" font-size="9.6" text-anchor="middle">4</text>
<text x="154.49" y="459.10" font-size="9.1" text-anchor="middle">Other</text>
<line x1="52.20" y1="444.50" x2="170.40" y2="444.50" stroke="#231f20" stroke-width="1.35"/>
<text x="0" y="0" font-size="10.8" text-anchor="middle" textLength="52.0" lengthAdjust="spacingAndGlyphs" style="stroke-width:0.4px" transform="translate(16.5,411.00) rotate(-90)">% of responses</text>
<text x="280.40" y="370.80" font-size="10.3" text-anchor="middle" textLength="23.10" lengthAdjust="spacingAndGlyphs">Rash</text>
<line x1="219.50" y1="377.40" x2="219.50" y2="445.00" stroke="#231f20" stroke-width="1.15"/>
<text x="212.24" y="447.26" font-size="9.2" text-anchor="end">0%</text>
<line x1="216.10" y1="431.66" x2="219.50" y2="431.66" stroke="#231f20" stroke-width="1.0"/>
<text x="212.24" y="434.52" font-size="9.2" text-anchor="end">20%</text>
<line x1="216.10" y1="418.92" x2="219.50" y2="418.92" stroke="#231f20" stroke-width="1.0"/>
<text x="212.24" y="421.78" font-size="9.2" text-anchor="end">40%</text>
<line x1="216.10" y1="406.18" x2="219.50" y2="406.18" stroke="#231f20" stroke-width="1.0"/>
<text x="212.24" y="409.04" font-size="9.2" text-anchor="end">60%</text>
<line x1="216.10" y1="393.44" x2="219.50" y2="393.44" stroke="#231f20" stroke-width="1.0"/>
<text x="212.24" y="396.30" font-size="9.2" text-anchor="end">80%</text>
<line x1="216.10" y1="380.70" x2="219.50" y2="380.70" stroke="#231f20" stroke-width="1.0"/>
<text x="212.24" y="383.56" font-size="9.2" text-anchor="end" id="t32"><tspan class="h1">1</tspan>00%</text>
<path d="M515,0 L515,1237 L197,1010 L197,1180 L530,1409 L696,1409 L696,0 Z" transform="translate(188.776,384.000) scale(0.00450,-0.00426)" fill="#231f20" stroke="#231f20" stroke-width="0.3" vector-effect="non-scaling-stroke"/>
<rect x="229.05" y="431.23" width="9.30" height="13.17" fill="#0f4b8c" stroke="#0c3566" stroke-width="0.4"/>
<line x1="233.70" y1="444.40" x2="233.70" y2="447.60" stroke="#231f20" stroke-width="0.9"/>
<text x="233.70" y="425.13" font-size="9.6" text-anchor="middle">68</text>
<text x="233.70" y="459.00" font-size="9.1" text-anchor="middle" id="t33"><tspan class="h1">1</tspan></text>
<path d="M515,0 L515,1237 L197,1010 L197,1180 L530,1409 L696,1409 L696,0 Z" transform="translate(230.809,459.000) scale(0.00444,-0.00426)" fill="#231f20" stroke="#231f20" stroke-width="0.3" vector-effect="non-scaling-stroke"/>
<rect x="259.42" y="396.00" width="9.30" height="48.40" fill="#0f4b8c" stroke="#0c3566" stroke-width="0.4"/>
<line x1="264.07" y1="444.40" x2="264.07" y2="447.60" stroke="#231f20" stroke-width="0.9"/>
<text x="264.07" y="389.90" font-size="9.6" text-anchor="middle">250</text>
<text x="264.07" y="459.00" font-size="9.1" text-anchor="middle">2</text>
<rect x="289.79" y="443.09" width="9.30" height="1.31" fill="#26303f"/>
<line x1="294.44" y1="444.40" x2="294.44" y2="447.60" stroke="#231f20" stroke-width="0.9"/>
<text x="294.44" y="437.14" font-size="9.6" text-anchor="middle">6</text>
<text x="294.44" y="459.00" font-size="9.1" text-anchor="middle">3</text>
<rect x="320.16" y="443.28" width="9.30" height="1.12" fill="#26303f"/>
<line x1="324.81" y1="444.40" x2="324.81" y2="447.60" stroke="#231f20" stroke-width="0.9"/>
<text x="324.81" y="437.33" font-size="9.6" text-anchor="middle">5</text>
<text x="324.81" y="459.00" font-size="9.1" text-anchor="middle">Other</text>
<line x1="216.10" y1="444.40" x2="340.80" y2="444.40" stroke="#231f20" stroke-width="1.35"/>
<text x="450.40" y="370.80" font-size="10.3" text-anchor="middle" textLength="57.70" lengthAdjust="spacingAndGlyphs">Skin Cancer</text>
<line x1="390.50" y1="377.40" x2="390.50" y2="445.00" stroke="#231f20" stroke-width="1.15"/>
<text x="383.34" y="447.26" font-size="9.2" text-anchor="end">0%</text>
<line x1="387.10" y1="431.66" x2="390.50" y2="431.66" stroke="#231f20" stroke-width="1.0"/>
<text x="383.34" y="434.52" font-size="9.2" text-anchor="end">20%</text>
<line x1="387.10" y1="418.92" x2="390.50" y2="418.92" stroke="#231f20" stroke-width="1.0"/>
<text x="383.34" y="421.78" font-size="9.2" text-anchor="end">40%</text>
<line x1="387.10" y1="406.18" x2="390.50" y2="406.18" stroke="#231f20" stroke-width="1.0"/>
<text x="383.34" y="409.04" font-size="9.2" text-anchor="end">60%</text>
<line x1="387.10" y1="393.44" x2="390.50" y2="393.44" stroke="#231f20" stroke-width="1.0"/>
<text x="383.34" y="396.30" font-size="9.2" text-anchor="end">80%</text>
<line x1="387.10" y1="380.70" x2="390.50" y2="380.70" stroke="#231f20" stroke-width="1.0"/>
<text x="383.34" y="383.56" font-size="9.2" text-anchor="end" id="t34"><tspan class="h1">1</tspan>00%</text>
<path d="M515,0 L515,1237 L197,1010 L197,1180 L530,1409 L696,1409 L696,0 Z" transform="translate(359.776,384.000) scale(0.00450,-0.00426)" fill="#231f20" stroke="#231f20" stroke-width="0.3" vector-effect="non-scaling-stroke"/>
<rect x="400.95" y="437.04" width="9.30" height="7.36" fill="#0f4b8c" stroke="#0c3566" stroke-width="0.4"/>
<line x1="405.60" y1="444.40" x2="405.60" y2="447.60" stroke="#231f20" stroke-width="0.9"/>
<text x="405.60" y="430.94" font-size="9.6" text-anchor="middle">38</text>
<text x="405.60" y="459.00" font-size="9.1" text-anchor="middle" id="t35"><tspan class="h1">1</tspan></text>
<path d="M515,0 L515,1237 L197,1010 L197,1180 L530,1409 L696,1409 L696,0 Z" transform="translate(402.809,459.000) scale(0.00444,-0.00426)" fill="#231f20" stroke="#231f20" stroke-width="0.3" vector-effect="non-scaling-stroke"/>
<rect x="431.48" y="403.74" width="9.30" height="40.66" fill="#0f4b8c" stroke="#0c3566" stroke-width="0.4"/>
<line x1="436.13" y1="444.40" x2="436.13" y2="447.60" stroke="#231f20" stroke-width="0.9"/>
<text x="436.13" y="397.64" font-size="9.6" text-anchor="middle" id="t36">2<tspan class="h1">1</tspan>0</text>
<path d="M515,0 L515,1237 L197,1010 L197,1180 L530,1409 L696,1409 L696,0 Z" transform="translate(433.659,398.000) scale(0.00469,-0.00426)" fill="#231f20" stroke="#231f20" stroke-width="0.3" vector-effect="non-scaling-stroke"/>
<text x="436.13" y="459.00" font-size="9.1" text-anchor="middle">2</text>
<rect x="462.01" y="429.49" width="9.30" height="14.91" fill="#0f4b8c" stroke="#0c3566" stroke-width="0.4"/>
<line x1="466.66" y1="444.40" x2="466.66" y2="447.60" stroke="#231f20" stroke-width="0.9"/>
<text x="466.66" y="423.39" font-size="9.6" text-anchor="middle">77</text>
<text x="466.66" y="459.00" font-size="9.1" text-anchor="middle">3</text>
<rect x="492.54" y="443.48" width="9.30" height="0.92" fill="#26303f"/>
<line x1="497.19" y1="444.40" x2="497.19" y2="447.60" stroke="#231f20" stroke-width="0.9"/>
<text x="497.19" y="437.53" font-size="9.6" text-anchor="middle">4</text>
<text x="497.19" y="459.00" font-size="9.1" text-anchor="middle">Other</text>
<line x1="387.20" y1="444.40" x2="511.00" y2="444.40" stroke="#231f20" stroke-width="1.35"/>
<text x="112.90" y="488.80" font-size="10.3" text-anchor="middle" textLength="59.60" lengthAdjust="spacingAndGlyphs">Weight Loss</text>
<line x1="55.50" y1="495.20" x2="55.50" y2="562.80" stroke="#231f20" stroke-width="1.15"/>
<text x="48.34" y="565.06" font-size="9.2" text-anchor="end">0%</text>
<line x1="52.10" y1="549.46" x2="55.50" y2="549.46" stroke="#231f20" stroke-width="1.0"/>
<text x="48.34" y="552.32" font-size="9.2" text-anchor="end">20%</text>
<line x1="52.10" y1="536.72" x2="55.50" y2="536.72" stroke="#231f20" stroke-width="1.0"/>
<text x="48.34" y="539.58" font-size="9.2" text-anchor="end">40%</text>
<line x1="52.10" y1="523.98" x2="55.50" y2="523.98" stroke="#231f20" stroke-width="1.0"/>
<text x="48.34" y="526.84" font-size="9.2" text-anchor="end">60%</text>
<line x1="52.10" y1="511.24" x2="55.50" y2="511.24" stroke="#231f20" stroke-width="1.0"/>
<text x="48.34" y="514.10" font-size="9.2" text-anchor="end">80%</text>
<line x1="52.10" y1="498.50" x2="55.50" y2="498.50" stroke="#231f20" stroke-width="1.0"/>
<text x="48.34" y="501.36" font-size="9.2" text-anchor="end" id="t37"><tspan class="h1">1</tspan>00%</text>
<path d="M515,0 L515,1237 L197,1010 L197,1180 L530,1409 L696,1409 L696,0 Z" transform="translate(24.776,501.000) scale(0.00450,-0.00426)" fill="#231f20" stroke="#231f20" stroke-width="0.3" vector-effect="non-scaling-stroke"/>
<rect x="65.20" y="545.16" width="8.60" height="17.04" fill="#0f4b8c" stroke="#0c3566" stroke-width="0.4"/>
<line x1="69.50" y1="562.20" x2="69.50" y2="565.40" stroke="#231f20" stroke-width="0.9"/>
<text x="69.50" y="539.06" font-size="9.6" text-anchor="middle">88</text>
<text x="69.50" y="576.80" font-size="9.1" text-anchor="middle" id="t38"><tspan class="h1">1</tspan></text>
<path d="M515,0 L515,1237 L197,1010 L197,1180 L530,1409 L696,1409 L696,0 Z" transform="translate(66.809,577.000) scale(0.00444,-0.00426)" fill="#231f20" stroke="#231f20" stroke-width="0.3" vector-effect="non-scaling-stroke"/>
<rect x="93.63" y="517.67" width="8.60" height="44.53" fill="#0f4b8c" stroke="#0c3566" stroke-width="0.4"/>
<line x1="97.93" y1="562.20" x2="97.93" y2="565.40" stroke="#231f20" stroke-width="0.9"/>
<text x="97.93" y="511.57" font-size="9.6" text-anchor="middle">230</text>
<text x="97.93" y="576.80" font-size="9.1" text-anchor="middle">2</text>
<rect x="122.06" y="560.45" width="8.60" height="1.75" fill="#1d2c44"/>
<line x1="126.36" y1="562.20" x2="126.36" y2="565.40" stroke="#231f20" stroke-width="0.9"/>
<text x="126.36" y="554.55" font-size="9.6" text-anchor="middle">8</text>
<text x="126.36" y="576.80" font-size="9.1" text-anchor="middle">3</text>
<rect x="150.49" y="561.47" width="8.60" height="0.73" fill="#26303f"/>
<line x1="154.79" y1="562.20" x2="154.79" y2="565.40" stroke="#231f20" stroke-width="0.9"/>
<text x="154.79" y="555.52" font-size="9.6" text-anchor="middle">3</text>
<text x="154.79" y="576.80" font-size="9.1" text-anchor="middle">Other</text>
<line x1="52.20" y1="562.20" x2="170.20" y2="562.20" stroke="#231f20" stroke-width="1.35"/>
<text x="0" y="0" font-size="10.8" text-anchor="middle" textLength="52.0" lengthAdjust="spacingAndGlyphs" style="stroke-width:0.4px" transform="translate(16.5,528.70) rotate(-90)">% of responses</text>
<text x="207.76" y="511.90" font-size="10.8" text-anchor="start" id="t39"><tspan class="h1">1</tspan></text>
<path d="M515,0 L515,1237 L197,1010 L197,1180 L530,1409 L696,1409 L696,0 Z" transform="translate(207.302,512.000) scale(0.00528,-0.00497)" fill="#231f20" stroke="#231f20" stroke-width="0.3" vector-effect="non-scaling-stroke"/>
<rect x="217.10" y="507.30" width="7.7" height="1.0" fill="#231f20"/>
<rect x="217.10" y="509.70" width="7.7" height="1.0" fill="#231f20"/>
<text x="228.10" y="511.90" font-size="10.8" text-anchor="start" textLength="88.20" lengthAdjust="spacingAndGlyphs">continue treatment</text>
<text x="207.76" y="525.60" font-size="10.8" text-anchor="start">2</text>
<rect x="217.10" y="521.00" width="7.7" height="1.0" fill="#231f20"/>
<rect x="217.10" y="523.40" width="7.7" height="1.0" fill="#231f20"/>
<text x="228.10" y="525.60" font-size="10.8" text-anchor="start" textLength="81.00" lengthAdjust="spacingAndGlyphs">consult physician</text>
<text x="207.76" y="539.00" font-size="10.8" text-anchor="start">3</text>
<rect x="217.10" y="534.40" width="7.7" height="1.0" fill="#231f20"/>
<rect x="217.10" y="536.80" width="7.7" height="1.0" fill="#231f20"/>
<text x="228.10" y="539.00" font-size="10.8" text-anchor="start" textLength="132.90" lengthAdjust="spacingAndGlyphs">consider stopping treatment</text>
<text x="207.76" y="552.50" font-size="10.8" text-anchor="start">Other</text>
<rect x="237.90" y="547.90" width="7.7" height="1.0" fill="#231f20"/>
<rect x="237.90" y="550.30" width="7.7" height="1.0" fill="#231f20"/>
<text x="248.80" y="552.50" font-size="10.8" text-anchor="start" textLength="143.80" lengthAdjust="spacingAndGlyphs" id="t40">any response except <tspan class="h1">1</tspan>, 2, or 3</text>
<path d="M515,0 L515,1237 L197,1010 L197,1180 L530,1409 L696,1409 L696,0 Z" transform="translate(350.334,552.000) scale(0.00523,-0.00497)" fill="#231f20" stroke="#231f20" stroke-width="0.3" vector-effect="non-scaling-stroke"/>
</svg>
</body></html>
